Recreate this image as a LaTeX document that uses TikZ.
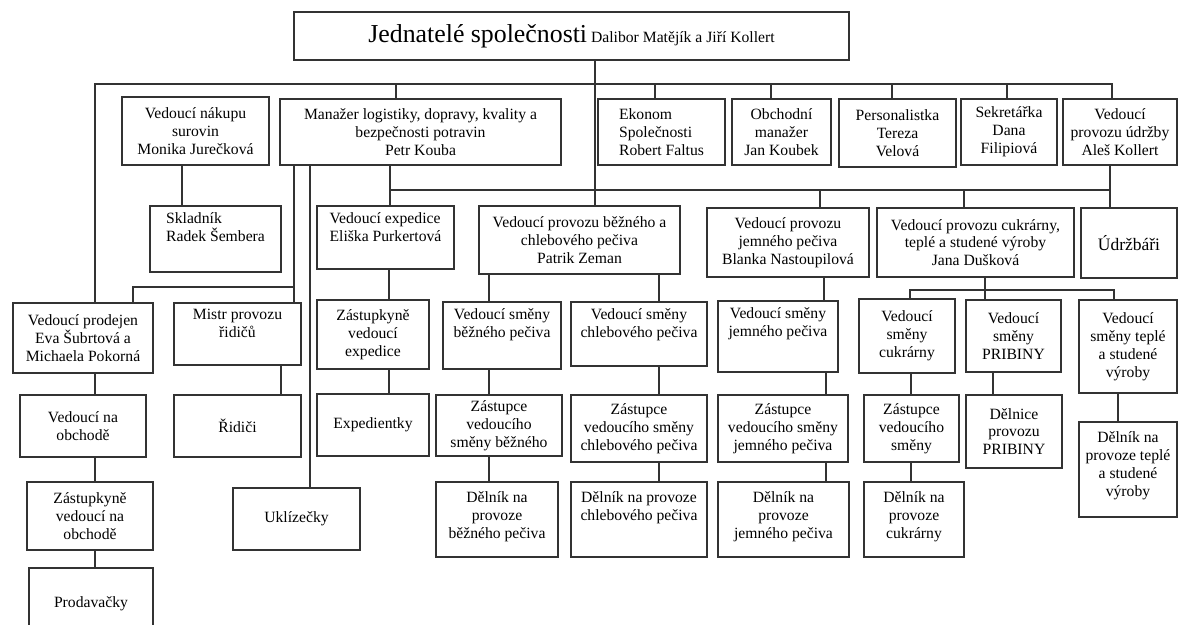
\documentclass[tikz,border=0pt]{standalone}
\usepackage{fontspec}
\setmainfont{Liberation Serif}
\usetikzlibrary{positioning}

\tikzset{
  orgbox/.style={draw=black!80, rectangle, line width=0.75pt, align=center, inner sep=2pt,
    font=\fontsize{9.4}{10.7}\selectfont},
  toptext/.style={anchor=north, align=center, inner sep=4pt,
    font=\fontsize{9.4}{10.7}\selectfont},
  link/.style={draw=black!80, line width=0.75pt}
}

\begin{document}
\begin{tikzpicture}[x=0.6pt,y=-0.6pt]
\useasboundingbox (0,0) rectangle (1178,624);
\clip (0,0) rectangle (1178,624);

% Define the boxes of the first rows
\node[orgbox, minimum width=333pt, minimum height=28.8pt] (top) at (571.5,36)
  {{\fontsize{15.5}{17}\selectfont Jednatelé společnosti} Dalibor Matějík a Jiří Kollert};
\node[orgbox, minimum width=88.2pt, minimum height=40.8pt] (nakup) at (195.5,131)
  {Vedoucí nákupu\\surovin\\Monika Jurečková};
\node[orgbox, minimum width=168.6pt, minimum height=39.6pt] (manazer) at (420.5,132)
  {Manažer logistiky, dopravy, kvality a\\bezpečnosti potravin\\Petr Kouba};
\node[orgbox, align=left, minimum width=76.2pt, minimum height=39.6pt] (ekonom) at (661.5,132)
  {Ekonom\\Společnosti\\Robert Faltus};
\node[orgbox, minimum width=59.4pt, minimum height=39.6pt] (obchodni) at (781.5,132)
  {Obchodní\\manažer\\Jan Koubek};
\node[orgbox, minimum width=70.2pt, minimum height=40.8pt] (personal) at (897.5,133)
  {Personalistka\\Tereza\\Velová};
\node[orgbox, minimum width=57.6pt, minimum height=39.6pt] (sekretar) at (1009,132)
  {Sekretářka\\Dana\\Filipiová};
\node[orgbox, minimum width=68.4pt, minimum height=39.6pt] (udrzby) at (1120,132)
  {Vedoucí\\provozu údržby\\Aleš Kollert};

% Define the boxes of the provozy
\node[orgbox, minimum width=78.6pt, minimum height=39.6pt] (sklad) at (215.5,239) {};
\node[toptext, align=left] at (sklad.north) {Skladník\\Radek Šembera};
\node[orgbox, minimum width=82.2pt, minimum height=37.8pt] (expedice) at (385.5,237.5) {};
\node[toptext, align=left] at (expedice.north) {Vedoucí expedice\\Eliška Purkertová};
\node[orgbox, minimum width=120.6pt, minimum height=40.8pt] (patrik) at (579.5,240)
  {Vedoucí provozu běžného a\\chlebového pečiva\\Patrik Zeman};
\node[orgbox, minimum width=97.2pt, minimum height=41.4pt] (jemny) at (788,242.5)
  {Vedoucí provozu\\jemného pečiva\\Blanka Nastoupilová};
\node[orgbox, minimum width=118.2pt, minimum height=41.4pt] (cukrar) at (975.5,242.5)
  {Vedoucí provozu cukrárny,\\teplé a studené výroby\\Jana Dušková};
\node[orgbox, minimum width=57.6pt, minimum height=42pt] (udrzbari) at (1129,243)
  {\fontsize{10.5}{12}\selectfont Údržbáři};

% Define the boxes of the left column
\node[orgbox, minimum width=84pt, minimum height=42pt] (prodejen) at (83,338)
  {Vedoucí prodejen\\Eva Šubrtová a\\Michaela Pokorná};
\node[orgbox, minimum width=75.6pt, minimum height=37.2pt] (obchod) at (83,426)
  {Vedoucí na\\obchodě};
\node[orgbox, minimum width=75.6pt, minimum height=40.8pt] (zastobchod) at (90,516)
  {Zástupkyně\\vedoucí na\\obchodě};
\node[orgbox, minimum width=74.4pt, minimum height=43.2pt] (prodavacky) at (91,604)
  {Prodavačky};
\node[orgbox, minimum width=76.2pt, minimum height=37.2pt] (mistr) at (237.5,334) {};
\node[toptext] at (mistr.north) {Mistr provozu\\řidičů};
\node[orgbox, minimum width=76.2pt, minimum height=37.2pt] (ridici) at (237.5,426)
  {Řidiči};
\node[orgbox, minimum width=76.2pt, minimum height=37.2pt] (uklizecky) at (296.5,519)
  {Uklízečky};
\node[orgbox, minimum width=67.2pt, minimum height=41.4pt] (zastexp) at (373,334.5)
  {Zástupkyně\\vedoucí\\expedice};
\node[orgbox, minimum width=67.2pt, minimum height=37.2pt] (expedientky) at (373,425)
  {Expedientky};

% Define the boxes of the smeny
\node[orgbox, minimum width=70.8pt, minimum height=40.2pt] (smbezny) at (502,335.5) {};
\node[toptext] at (smbezny.north) {Vedoucí směny\\běžného pečiva};
\node[orgbox, minimum width=81.6pt, minimum height=38.4pt] (smchleb) at (639,334) {};
\node[toptext] at (smchleb.north) {Vedoucí směny\\chlebového pečiva};
\node[orgbox, minimum width=72pt, minimum height=42.6pt] (smjemny) at (778,336.5) {};
\node[toptext] at (smjemny.north) {Vedoucí směny\\jemného pečiva};
\node[orgbox, minimum width=57.6pt, minimum height=44.4pt] (smcukr) at (907,336)
  {Vedoucí\\směny\\cukrárny};
\node[orgbox, minimum width=57pt, minimum height=43.2pt] (smpribina) at (1013.5,336)
  {Vedoucí\\směny\\PRIBINY};
\node[orgbox, minimum width=58.8pt, minimum height=55.8pt] (smteple) at (1128,346.5)
  {Vedoucí\\směny teplé\\a studené\\výroby};

% Define the boxes of the zastupci
\node[orgbox, minimum width=75.6pt, minimum height=36.6pt] (zastbezny) at (499,425.5)
  {Zástupce\\vedoucího\\směny běžného};
\node[orgbox, minimum width=81.6pt, minimum height=40.2pt] (zastchleb) at (639,428.5)
  {Zástupce\\vedoucího směny\\chlebového pečiva};
\node[orgbox, minimum width=78pt, minimum height=40.2pt] (zastjemny) at (783,428.5)
  {Zástupce\\vedoucího směny\\jemného pečiva};
\node[orgbox, minimum width=57pt, minimum height=40.2pt] (zastcukr) at (911.5,428.5)
  {Zástupce\\vedoucího\\směny};
\node[orgbox, minimum width=57.6pt, minimum height=43.8pt] (delnicepribina) at (1014,431.5)
  {Dělnice\\provozu\\PRIBINY};
\node[orgbox, minimum width=58.8pt, minimum height=57pt] (delteple) at (1128,469.5) {};
\node[toptext, inner sep=6pt] at (delteple.north) {Dělník na\\provoze teplé\\a studené\\výroby};

% Define the boxes of the delnici
\node[orgbox, minimum width=73.2pt, minimum height=45pt] (delbezny) at (497,519.5) {};
\node[toptext, inner sep=6pt] at (delbezny.north) {Dělník na\\provoze\\běžného pečiva};
\node[orgbox, minimum width=81.6pt, minimum height=45pt] (delchleb) at (639,519.5) {};
\node[toptext, inner sep=6pt] at (delchleb.north) {Dělník na provoze\\chlebového pečiva};
\node[orgbox, minimum width=78.6pt, minimum height=45pt] (deljemny) at (783.5,519.5) {};
\node[toptext, inner sep=6pt] at (deljemny.north) {Dělník na\\provoze\\jemného pečiva};
\node[orgbox, minimum width=60pt, minimum height=45pt] (delcukr) at (914,519.5) {};
\node[toptext, inner sep=6pt] at (delcukr.north) {Dělník na\\provoze\\cukrárny};

% Draw the buses
\draw[link] (prodejen.north -| 95,0) -- (95,84) -- (1112,84) -- (udrzby.north -| 1112,0);
\foreach \x/\n in {396/manazer, 655/ekonom, 771/obchodni, 892/personal, 1007/sekretar}
  \draw[link] (\x,84) -- (\n.north -| \x,0);
\draw[link] (390,190) -- (1110,190);
\foreach \x/\n in {820/jemny, 964/cukrar}
  \draw[link] (\x,190) -- (\n.north -| \x,0);
\draw[link] (smcukr.north -| 910,0) -- (910,290) -- (1114,290) -- (smteple.north -| 1114,0);
\draw[link] (294,287) -- (133,287) -- (prodejen.north -| 133,0);

% Draw the vertical links
\foreach \a/\b/\x in {top/patrik/595, nakup/sklad/182, manazer/expedice/390,
    manazer/mistr/294, manazer/uklizecky/310, udrzby/udrzbari/1110,
    mistr/ridici/281, prodejen/obchod/95, obchod/zastobchod/95,
    zastobchod/prodavacky/95, expedice/zastexp/389, zastexp/expedientky/389,
    patrik/smbezny/489, smbezny/zastbezny/489, zastbezny/delbezny/489,
    patrik/smchleb/659, smchleb/zastchleb/659, zastchleb/delchleb/659,
    jemny/smjemny/824, smjemny/zastjemny/826, zastjemny/deljemny/826,
    cukrar/smpribina/985, smcukr/zastcukr/911, zastcukr/delcukr/911,
    smpribina/delnicepribina/993, smteple/delteple/1118}
  \draw[link] (\a.south -| \x,0) -- (\b.north -| \x,0);
\end{tikzpicture}
\end{document}
